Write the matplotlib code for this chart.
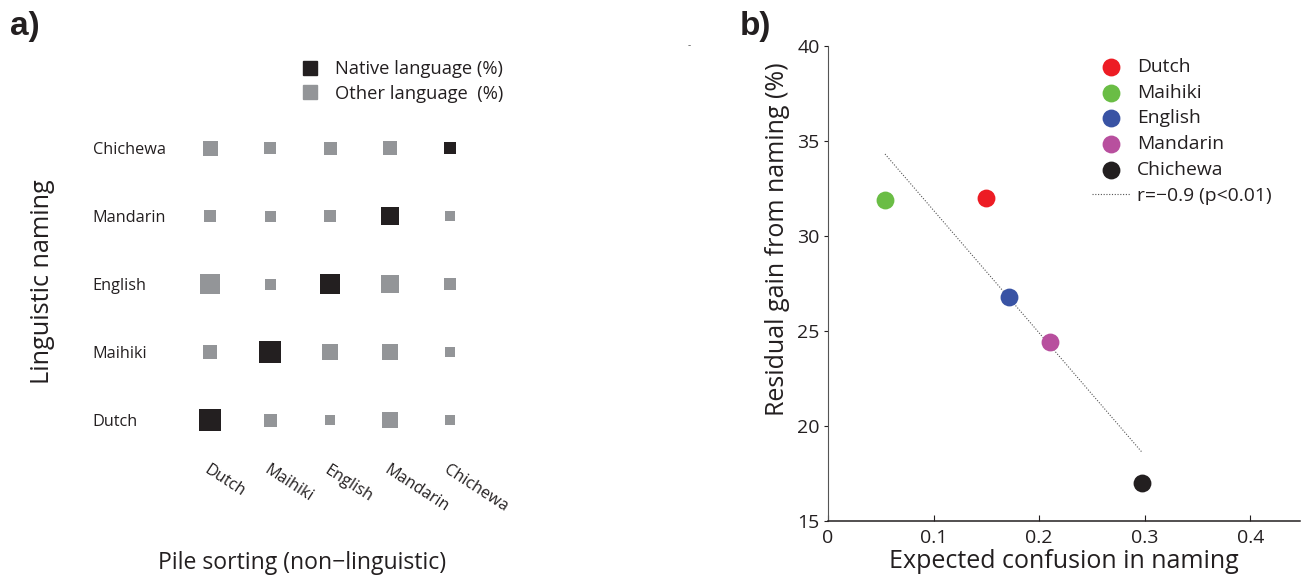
import numpy as np
import matplotlib.pyplot as plt
from matplotlib.lines import Line2D

plt.rcParams['font.family'] = ['Open Sans', 'DejaVu Sans']

# panel a: naming vs pile sorting (relative square sizes)
languages = ["Dutch", "Maihiki", "English", "Mandarin", "Chichewa"]
# rows = linguistic naming (Dutch..Chichewa), cols = pile sorting (Dutch..Chichewa)
square_size = [
    [22.7, 13.0, 10.7, 15.3, 10.3],   # Dutch
    [13.7, 22.7, 16.0, 16.0, 9.7],    # Maihiki
    [20.7, 11.0, 19.3, 18.7, 12.3],   # English
    [12.7, 11.0, 12.7, 17.7, 9.3],    # Mandarin
    [15.0, 12.7, 13.0, 13.7, 12.7],   # Chichewa
]

# panel b: residual gain vs expected confusion
confusion = [0.150, 0.054, 0.171, 0.210, 0.297]
gain = [32.0, 31.9, 26.8, 24.4, 17.0]
point_colors = ["#ED1C24", "#6ABD45", "#3953A4", "#B84F9E", "#231F20"]

DARK = "#231F20"
GREY = "#939598"

W, H = 1302, 577
fig = plt.figure(figsize=(W / 100, H / 100), dpi=100)


def px_axes(left, top, right, bottom):
    return fig.add_axes([left / W, 1 - bottom / H, (right - left) / W, (bottom - top) / H])


# ---------- panel a ----------
ax1 = px_axes(180, 114, 480, 454)
sizes = np.array(square_size)
for i in range(len(languages)):
    for j in range(len(languages)):
        side_pt = sizes[i, j] * 0.72
        ax1.scatter(j, i, s=side_pt ** 2, marker="s", linewidths=0,
                    color=DARK if i == j else GREY)
ax1.set_xlim(-0.5, 4.5)
ax1.set_ylim(-0.5, 4.5)
for sp in ax1.spines.values():
    sp.set_visible(False)
ax1.set_xticks(range(5))
ax1.set_yticks(range(5))
ax1.set_yticklabels(languages, ha="left", fontsize=11.7, color=DARK)
ax1.set_xticklabels(languages, rotation=-33, ha="left", va="top",
                    rotation_mode="anchor", fontsize=11.7, color=DARK)
ax1.tick_params(axis="y", length=0, pad=63)
ax1.tick_params(axis="x", length=0, pad=6)
ax1.set_ylabel("Linguistic naming", fontsize=18.2, color=DARK)
ax1.yaxis.set_label_coords(-0.417, 0.507)
ax1.set_xlabel("Pile sorting (non\u2212linguistic)", fontsize=16.6, color=DARK)
ax1.xaxis.set_label_coords(0.407, -0.285)

handles_a = [
    Line2D([], [], marker="s", linestyle="none", color=DARK, markersize=10),
    Line2D([], [], marker="s", linestyle="none", color=GREY, markersize=10),
]
fig.legend(handles_a, ["Native language (%)", "Other language  (%)"],
           loc="upper left", bbox_to_anchor=(301 / W, 1 - 60 / H),
           frameon=False, fontsize=13.2, handlelength=1.0, handletextpad=0.85,
           labelspacing=0.36, borderpad=0, borderaxespad=0, labelcolor=DARK)

fig.text(10 / W, 1 - 27 / H, "a)", fontsize=24, fontweight="bold", va="center",
         family="Liberation Sans", color=DARK)
fig.text(740 / W, 1 - 27 / H, "b)", fontsize=24, fontweight="bold", va="center",
         family="Liberation Sans", color=DARK)
fig.text(688 / W, 1 - 46 / H, "-", fontsize=7, color="#555555", va="center")

# ---------- panel b ----------
ax2 = px_axes(828, 46, 1300, 521)
for x, y, c, name in zip(confusion, gain, point_colors, languages):
    ax2.scatter(x, y, s=165, color=c, linewidths=0, label=name, zorder=3)

cx = np.array(confusion)
coef = np.polyfit(cx, gain, 1)
xs = np.array([cx.min(), cx.max()])
ax2.plot(xs, np.polyval(coef, xs), linestyle=(0, (1, 1.5)), color="#555555",
         linewidth=0.8, label="r=\u22120.9 (p<0.01)", zorder=2)

ax2.set_xlim(0, 0.447)
ax2.set_ylim(15, 40)
ax2.set_xticks([0, 0.1, 0.2, 0.3, 0.4])
ax2.set_xticklabels(["0", "0.1", "0.2", "0.3", "0.4"])
ax2.set_yticks([15, 20, 25, 30, 35, 40])
ax2.spines["top"].set_visible(False)
ax2.spines["right"].set_visible(False)
ax2.spines["left"].set_color("#555555")
ax2.spines["bottom"].set_color(DARK)
ax2.spines["bottom"].set_linewidth(1.1)
ax2.tick_params(axis="x", direction="in", length=4, labelsize=14, colors=DARK, pad=6)
ax2.tick_params(axis="y", direction="out", length=3, labelsize=14, colors=DARK, pad=3)
ax2.set_xlabel("Expected confusion in naming", fontsize=18, color=DARK)
ax2.xaxis.set_label_coords(0.5, -0.06)
ax2.set_ylabel("Residual gain from naming (%)", fontsize=18, color=DARK)
ax2.yaxis.set_label_coords(-0.08, 0.594)
ax2.legend(loc="upper left", bbox_to_anchor=((1092 - 828) / 472, 1 - 12 / 475),
           frameon=False, fontsize=13.9, handlelength=1.97, handletextpad=0.36,
           labelspacing=0.4, borderpad=0, borderaxespad=0, labelcolor=DARK)

fig.savefig("out.png", dpi=100)
